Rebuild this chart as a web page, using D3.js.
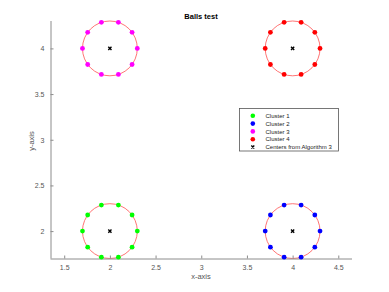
<!DOCTYPE html>
<html>
<head>
<meta charset="utf-8">
<script src="https://cdn.jsdelivr.net/npm/d3@7"></script>
<style>
  body { margin: 0; background: #fff; }
  text { font-family: "Liberation Sans", Arial, sans-serif; }
</style>
</head>
<body>
<div id="chart"></div>
<script>
// chart data
var xTicks = [1.5, 2, 2.5, 3, 3.5, 4, 4.5];
var yTicks = [2, 2.5, 3, 3.5, 4];

var cluster1X = [2.3, 2.243, 2.093, 1.907, 1.757, 1.7, 1.757, 1.907, 2.093, 2.243];
var cluster1Y = [2, 2.176, 2.285, 2.285, 2.176, 2, 1.824, 1.715, 1.715, 1.824];
var cluster2X = [4.3, 4.243, 4.093, 3.907, 3.757, 3.7, 3.757, 3.907, 4.093, 4.243];
var cluster2Y = [2, 2.176, 2.285, 2.285, 2.176, 2, 1.824, 1.715, 1.715, 1.824];
var cluster3X = [2.3, 2.243, 2.093, 1.907, 1.757, 1.7, 1.757, 1.907, 2.093, 2.243];
var cluster3Y = [4, 4.176, 4.285, 4.285, 4.176, 4, 3.824, 3.715, 3.715, 3.824];
var cluster4X = [4.3, 4.243, 4.093, 3.907, 3.757, 3.7, 3.757, 3.907, 4.093, 4.243];
var cluster4Y = [4, 4.176, 4.285, 4.285, 4.176, 4, 3.824, 3.715, 3.715, 3.824];

var centersX = [2, 4, 2, 4];
var centersY = [2, 2, 4, 4];
var ballRadius = 0.3;

var clusterNames = ['Cluster 1', 'Cluster 2', 'Cluster 3', 'Cluster 4'];
var clusterColors = ['#00ff00', '#0000ff', '#ff00ff', '#ff0000'];
var centersName = 'Centers from Algorithm 3';

(function() {
  var width = 389, height = 292;
  var left = 50.5, right = 352, top = 21, bottom = 258.5;

  var x = d3.scaleLinear().domain([1.35, 4.65]).range([left, right]);
  var y = d3.scaleLinear().domain([1.7, 4.3]).range([bottom, top]);

  var svg = d3.select('#chart').append('svg')
      .attr('width', width)
      .attr('height', height);

  var clusters = [
    {xs: cluster1X, ys: cluster1Y},
    {xs: cluster2X, ys: cluster2Y},
    {xs: cluster3X, ys: cluster3Y},
    {xs: cluster4X, ys: cluster4Y}
  ];

  // red circles round each center
  svg.selectAll('ellipse.ball').data(centersX)
    .enter().append('ellipse')
      .attr('class', 'ball')
      .attr('cx', function(d) { return x(d); })
      .attr('cy', function(d, i) { return y(centersY[i]); })
      .attr('rx', x(ballRadius) - x(0))
      .attr('ry', y(0) - y(ballRadius))
      .attr('fill', 'none')
      .attr('stroke', '#ff5050')
      .attr('stroke-width', 0.8);

  // axes (ticks pointing inward)
  var xAxis = svg.append('g')
      .attr('transform', 'translate(0,' + bottom + ')')
      .call(d3.axisBottom(x).tickValues(xTicks).tickSize(-3).tickPadding(7)
        .tickFormat(d3.format('')));
  var yAxis = svg.append('g')
      .attr('transform', 'translate(' + left + ',0)')
      .call(d3.axisLeft(y).tickValues(yTicks).tickSize(-3).tickPadding(6)
        .tickFormat(d3.format('')));
  [xAxis, yAxis].forEach(function(a) {
    a.select('.domain').attr('stroke', '#8c8c8c').attr('d',
      a === xAxis ? 'M' + left + ',0.5H' + right : 'M0.5,' + top + 'V' + bottom);
    a.selectAll('.tick line').attr('stroke', '#8c8c8c');
    a.selectAll('.tick text').attr('fill', '#555').style('font-size', '7px');
  });

  // cluster points
  clusters.forEach(function(c, ci) {
    svg.selectAll('circle.c' + ci).data(c.xs)
      .enter().append('circle')
        .attr('class', 'c' + ci)
        .attr('cx', function(d) { return x(d); })
        .attr('cy', function(d, i) { return y(c.ys[i]); })
        .attr('r', 2.4)
        .attr('fill', clusterColors[ci]);
  });

  // centers as x markers
  var cross = function(sel, s) {
    sel.append('path')
      .attr('d', 'M' + (-s) + ',' + (-s) + 'L' + s + ',' + s + 'M' + (-s) + ',' + s + 'L' + s + ',' + (-s))
      .attr('stroke', '#000')
      .attr('stroke-width', 1.4);
  };
  centersX.forEach(function(d, i) {
    var g = svg.append('g').attr('transform', 'translate(' + x(d) + ',' + y(centersY[i]) + ')');
    cross(g, 1.6);
  });

  // title and labels
  svg.append('text').attr('x', 201).attr('y', 18.5)
    .attr('text-anchor', 'middle').style('font-size', '7.5px').style('font-weight', 'bold')
    .text('Balls test');
  svg.append('text').attr('x', 201).attr('y', 279)
    .attr('text-anchor', 'middle').style('font-size', '7.5px').attr('fill', '#555')
    .text('x-axis');
  svg.append('text')
    .attr('transform', 'translate(34,141) rotate(-90)')
    .attr('text-anchor', 'middle').style('font-size', '7.5px').attr('fill', '#555')
    .text('y-axis');

  // legend
  var lg = svg.append('g').attr('transform', 'translate(239.5,108.5)');
  lg.append('rect').attr('width', 99).attr('height', 42.5)
    .attr('fill', '#fff').attr('stroke', '#555').attr('stroke-width', 0.8);
  var names = clusterNames.concat([centersName]);
  names.forEach(function(n, i) {
    var row = lg.append('g').attr('transform', 'translate(0,' + (7.3 + i * 7.8) + ')');
    if (i < clusterNames.length) {
      row.append('circle').attr('cx', 13.3).attr('r', 2.3).attr('fill', clusterColors[i]);
    } else {
      var m = row.append('g').attr('transform', 'translate(13.3,0)');
      cross(m, 1.5);
    }
    row.append('text').attr('x', 26).attr('dy', '0.35em')
      .style('font-size', '6px').attr('fill', '#222').text(n);
  });
})();
</script>
</body>
</html>
